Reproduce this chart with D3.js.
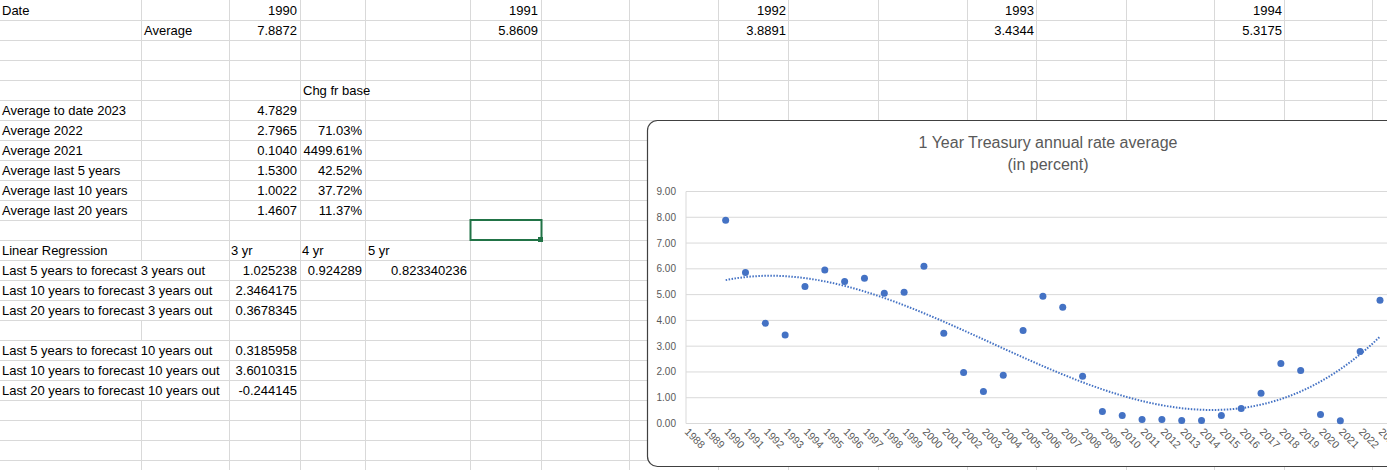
<!DOCTYPE html>
<html><head><meta charset="utf-8">
<script src="https://cdn.jsdelivr.net/npm/d3@7"></script>
<style>body{margin:0;background:#fff;overflow:hidden}text{font-family:"Liberation Sans",Arial,sans-serif}</style>
</head><body><svg id="c" width="1387" height="470"></svg>
<script>
// ---- data ----
const years = d3.range(1990, 2024);
const rates = [7.8872,5.8609,3.8891,3.4344,5.3175,5.95,5.51,5.63,5.05,5.09,6.10,3.50,1.98,1.24,1.87,3.61,4.94,4.51,1.83,0.47,0.31,0.16,0.16,0.12,0.12,0.31,0.58,1.17,2.33,2.06,0.35,0.1040,2.7965,4.7829];
const axisYears = d3.range(1988, 2024);
const yTicks = [0,1,2,3,4,5,6,7,8,9];
const headerYears = ["1990","1991","1992","1993","1994"];
const headerAvgs = ["7.8872","5.8609","3.8891","3.4344","5.3175"];
const summaryLabels = ["Average to date 2023","Average 2022","Average 2021","Average last 5 years","Average last 10 years","Average last 20 years"];
const summaryVals = ["4.7829","2.7965","0.1040","1.5300","1.0022","1.4607"];
const summaryChg = ["","71.03%","4499.61%","42.52%","37.72%","11.37%"];
const regLabels = ["Last 5 years to forecast 3 years out","Last 10 years to forecast 3 years out","Last 20 years to forecast 3 years out","","Last 5 years to forecast 10 years out","Last 10 years to forecast 10 years out","Last 20 years to forecast 10 years out"];
const reg3 = ["1.025238","2.3464175","0.3678345","","0.3185958","3.6010315","-0.244145"];
const reg4 = ["0.924289"], reg5 = ["0.823340236"];

const svg = d3.select("#c");
// ---- sheet grid ----
const cols = [0,141,229,300,365,470,541,629,718,788,878,967,1036,1126,1214,1284,1372];
const g = svg.append("g");
for (let r=1;r<=23;r++) g.append("line").attr("x1",0).attr("x2",1387).attr("y1",r*20+0.5).attr("y2",r*20+0.5).attr("stroke","#d9d9d9");
cols.slice(1).forEach(c=>g.append("line").attr("x1",c+0.5).attr("x2",c+0.5).attr("y1",0).attr("y2",470).attr("stroke","#d9d9d9"));
const fs = 13;
function txt(x,row,s,anchor){ g.append("text").attr("x",x).attr("y",row*20+15).attr("font-size",fs).attr("fill","#000").attr("text-anchor",anchor||"start").text(s); }
txt(2,0,"Date"); txt(144,1,"Average");
const headerRight=[297,538,786,1034,1282];
headerYears.forEach((s,i)=>{txt(headerRight[i],0,s,"end"); txt(headerRight[i],1,headerAvgs[i],"end");});
txt(303,4,"Chg fr base");
summaryLabels.forEach((s,i)=>{txt(2,5+i,s); txt(297,5+i,summaryVals[i],"end"); if(summaryChg[i]) txt(362,5+i,summaryChg[i],"end");});
txt(2,12,"Linear Regression"); txt(231,12,"3 yr"); txt(302,12,"4 yr"); txt(368,12,"5 yr");
regLabels.forEach((s,i)=>{ if(s){
  g.append("rect").attr("x",1).attr("y",(13+i)*20+1).attr("width",227).attr("height",19).attr("fill","#fff");
  txt(2,13+i,s); txt(297,13+i,reg3[i],"end");} });
txt(362,13,reg4[0],"end"); txt(467,13,reg5[0],"end");
// selected cell
g.append("rect").attr("x",470.5).attr("y",220).attr("width",71).attr("height",20).attr("fill","none").attr("stroke","#217346").attr("stroke-width",2);
g.append("rect").attr("x",538).attr("y",237).attr("width",5).attr("height",5).attr("fill","#217346");

// ---- chart ----
const ch = svg.append("g");
ch.append("rect").attr("x",647.5).attr("y",120.5).attr("width",800).attr("height",346).attr("rx",10).attr("fill","#fff").attr("stroke","#404040").attr("stroke-width",1.2);
ch.append("text").attr("x",1048).attr("y",148).attr("text-anchor","middle").attr("font-size",16).attr("fill","#595959").text("1 Year Treasury annual rate average");
ch.append("text").attr("x",1048).attr("y",170).attr("text-anchor","middle").attr("font-size",16).attr("fill","#595959").text("(in percent)");
const x = d3.scaleLinear().domain([1988,2023]).range([686,1380]);
const y = d3.scaleLinear().domain([0,9]).range([423.5,191.5]);
ch.append("g").selectAll("line").data(yTicks).join("line").attr("x1",686).attr("x2",1387).attr("y1",d=>y(d)).attr("y2",d=>y(d)).attr("stroke","#d9d9d9");
ch.append("line").attr("x1",686).attr("x2",686).attr("y1",y(9)).attr("y2",y(0)).attr("stroke","#d9d9d9");
ch.append("g").selectAll("text").data(yTicks).join("text").attr("x",676).attr("y",d=>y(d)+3.5).attr("text-anchor","end").attr("font-size",10).attr("fill","#595959").text(d=>d.toFixed(2));
ch.append("g").selectAll("text").data(axisYears).join("text").attr("transform",d=>`translate(${x(d)-2},${y(0)+9}) rotate(45)`).attr("font-size",10.5).attr("fill","#595959").text(d=>d);
// cubic trendline (least squares)
function polyfit(xs,ys,deg){const n=deg+1;const A=Array.from({length:n},()=>Array(n+1).fill(0));
 xs.forEach((xv,k)=>{for(let i=0;i<n;i++){for(let j=0;j<n;j++)A[i][j]+=Math.pow(xv,i+j);A[i][n]+=ys[k]*Math.pow(xv,i);}});
 for(let i=0;i<n;i++){let p=i;for(let r=i+1;r<n;r++)if(Math.abs(A[r][i])>Math.abs(A[p][i]))p=r;[A[i],A[p]]=[A[p],A[i]];
  for(let r=0;r<n;r++)if(r!==i){const f=A[r][i]/A[i][i];for(let c=i;c<=n;c++)A[r][c]-=f*A[i][c];}}
 return A.map((row,i)=>row[n]/row[i]);}
const t = years.map(d=>d-1990);
const co = polyfit(t,rates,3);
const fit = d3.range(0,33.01,0.25).map(v=>[v+1990, co.reduce((s,c,i)=>s+c*Math.pow(v,i),0)]);
ch.append("path").datum(fit).attr("d",d3.line().x(d=>x(d[0])).y(d=>y(d[1]))).attr("fill","none").attr("stroke","#4472C4").attr("stroke-width",2).attr("stroke-dasharray","1.5,1.5");
ch.append("g").selectAll("circle").data(years).join("circle").attr("cx",d=>x(d)).attr("cy",(d,i)=>y(rates[i])).attr("r",3.5).attr("fill","#4472C4");
</script></body></html>
